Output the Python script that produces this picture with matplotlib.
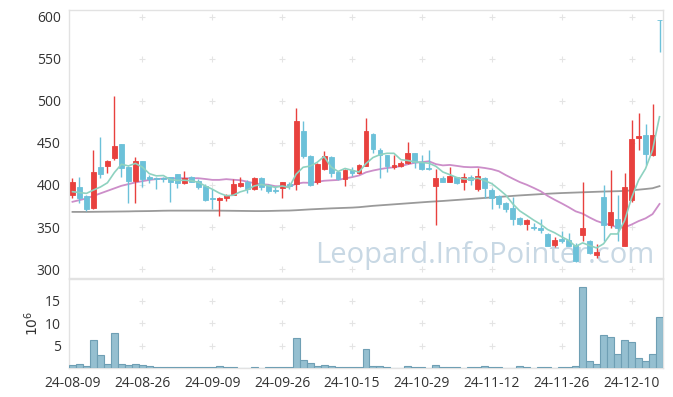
import numpy as np
import pandas as pd
import matplotlib
matplotlib.use("Agg")
import matplotlib.pyplot as plt

plt.rcParams['font.family'] = ['Open Sans', 'DejaVu Sans']

# ---- data ----
holidays = ["2024-08-15", "2024-09-16", "2024-09-17", "2024-09-18",
            "2024-10-01", "2024-10-03", "2024-10-09"]
dates = [d for d in pd.bdate_range("2024-08-09", "2024-12-16")
         if d.strftime("%Y-%m-%d") not in holidays]

opens = [388, 397, 387, 373, 421, 422, 432, 449, 421, 405,
         428, 409, 408, 408, 409, 413, 402, 409, 405, 399,
         384, 382, 384, 388, 399, 404, 395, 408, 400, 394,
         396, 401, 401, 464, 434, 403, 419, 433, 415, 407,
         418, 414, 423, 461, 441, 436, 421, 423, 426, 438,
         427, 420, 399, 408, 404, 410, 404, 409, 395, 408,
         394, 387, 379, 373, 361, 354, 350, 349, 342, 329,
         336, 335, 329, 341, 333, 317, 386, 352, 360, 328,
         382, 456, 459, 436, 596]
highs = [408, 409, 388, 441, 457, 430, 506, 449, 422, 433,
         429, 412, 410, 409, 410, 413, 417, 411, 407, 401,
         395, 386, 389, 407, 410, 406, 409, 409, 401, 397,
         404, 404, 492, 476, 435, 426, 440, 434, 417, 419,
         421, 425, 480, 462, 444, 436, 436, 428, 451, 438,
         435, 442, 419, 411, 421, 410, 414, 412, 420, 409,
         396, 388, 380, 386, 362, 360, 355, 360, 343, 338,
         345, 343, 331, 403, 335, 330, 400, 418, 388, 414,
         477, 485, 472, 496, 596]
lows = [384, 379, 369, 372, 408, 414, 430, 410, 378, 379,
        398, 402, 395, 404, 380, 396, 401, 403, 395, 381,
        372, 363, 381, 388, 398, 391, 394, 394, 391, 391,
        385, 395, 394, 432, 399, 401, 418, 410, 406, 399,
        411, 413, 422, 438, 408, 415, 419, 421, 425, 420,
        418, 418, 353, 403, 403, 401, 394, 400, 393, 384,
        372, 373, 368, 352, 352, 347, 346, 343, 327, 326,
        331, 327, 309, 333, 318, 313, 333, 349, 333, 327,
        380, 442, 424, 434, 558]
closes = [404, 385, 371, 415, 413, 429, 446, 420, 405, 428,
          407, 407, 407, 407, 404, 402, 408, 404, 398, 382,
          383, 385, 388, 401, 402, 395, 408, 397, 393, 393,
          403, 399, 476, 434, 400, 425, 434, 414, 407, 418,
          414, 424, 464, 443, 435, 422, 424, 426, 438, 427,
          419, 419, 408, 404, 411, 402, 410, 406, 411, 396,
          385, 377, 371, 359, 354, 358, 349, 346, 328, 335,
          334, 328, 310, 349, 319, 320, 353, 368, 349, 398,
          455, 458, 437, 459, 596]
volumes = [0.67, 0.9, 0.44, 6.2, 2.9, 0.9, 7.8, 0.9, 0.67, 0.9,
           0.67, 0.44, 0.2, 0.15, 0.15, 0.15, 0.15, 0.15, 0.15, 0.15,
           0.15, 0.4, 0.15, 0.15, 0.05, 0.05, 0.15, 0.05, 0.15, 0.15,
           0.15, 0.15, 6.7, 1.8, 1.1, 0.44, 0.67, 0.44, 0.2, 0.2,
           0.2, 0.2, 4.2, 0.44, 0.44, 0.2, 0.05, 0.05, 0.44, 0.2,
           0.2, 0.05, 0.67, 0.2, 0.2, 0.2, 0.05, 0.15, 0.15, 0.44,
           0.2, 0.2, 0.05, 0.05, 0.44, 0.2, 0.05, 0.15, 0.15, 0.05,
           0.2, 0.2, 0.44, 18.0, 1.6, 0.9, 7.3, 6.9, 3.1, 6.2,
           5.8, 2.2, 1.6, 3.1, 11.3]
# moving-average values before enough closes are available
ma5_head = [392, 391, 390, 394]
ma20_head = [380, 382, 384, 387, 390, 393, 396, 399, 401, 403,
             404.5, 406, 407, 407.5, 408, 408, 408, 408, 408]
ma_long = [368.0, 368.0, 368.0, 368.1, 368.2, 368.3, 368.4, 368.5, 368.6, 368.8,
           368.9, 369.0, 369.2, 369.4, 369.5, 369.5, 369.5, 369.5, 369.5, 369.5,
           369.5, 369.5, 369.4, 369.3, 369.2, 369.1, 369.0, 369.0, 369.1, 369.3,
           369.5, 369.6, 370.0, 370.5, 371.0, 371.4, 371.8, 372.2, 372.5, 372.8,
           373.1, 373.6, 374.4, 375.2, 375.8, 376.4, 377.0, 377.6, 378.2, 378.8,
           379.4, 380.0, 380.5, 381.0, 381.6, 382.2, 382.8, 383.4, 384.0, 384.6,
           385.2, 385.8, 386.4, 387.0, 387.6, 388.1, 388.6, 389.1, 389.6, 390.0,
           390.4, 390.7, 391.0, 391.3, 391.6, 391.9, 392.2, 392.4, 392.6, 392.9,
           393.6, 394.4, 395.2, 396.1, 398.6]

# ---- derived ----
n = len(closes)
x = np.arange(n)
o = np.array(opens, float)
c = np.array(closes, float)
h = np.array(highs, float)
l = np.array(lows, float)
v = np.array(volumes, float)
cs = pd.Series(c)
ma5 = cs.rolling(5).mean().to_numpy()
ma5[:4] = ma5_head
ma20 = cs.rolling(20).mean().to_numpy()
ma20[:19] = ma20_head

UP = '#e8413e'
DOWN = '#6cc1d9'
colors = [UP if cc > oo else DOWN for oo, cc in zip(o, c)]

W, H = 673, 397
fig = plt.figure(figsize=(W / 100, H / 100), dpi=100)
L, R = 69, 663
ax = fig.add_axes([L / W, 1 - 278 / H, (R - L) / W, (278 - 10) / H])
axv = fig.add_axes([L / W, 1 - 368 / H, (R - L) / W, (368 - 279) / H], sharex=ax)

spine_col = '#e2e2e2'
for a in (ax, axv):
    for s in a.spines.values():
        s.set_color(spine_col)
        s.set_linewidth(1.0)
    a.tick_params(length=0, labelsize=10, labelcolor='#333333', pad=6)

# watermark
ax.text(0.70, 0.085, 'Leopard.InfoPointer.com', transform=ax.transAxes,
        ha='center', va='center', fontsize=21, color='#c8d8e4', zorder=0)

# candles
ax.vlines(x, l, h, colors=colors, linewidth=1.0, zorder=3)
bottom = np.minimum(o, c)
height = np.abs(c - o)
ax.bar(x, height, bottom=bottom, width=0.7, color=colors, edgecolor=colors,
       linewidth=0.6, zorder=4)

# moving averages
ax.plot(x, ma_long, color='#9a9a9a', lw=1.3, zorder=2)
ax.plot(x, ma20, color='#cc8ec9', lw=1.3, zorder=2)
ax.plot(x, ma5, color='#8ed2c0', lw=1.2, zorder=5)

ax.set_xlim(-0.5, n - 0.5)
ax.set_ylim(289.5, 607.8)
yt = [300, 350, 400, 450, 500, 550, 600]
ax.set_yticks(yt)
ticks = list(range(0, n, 10))
ax.set_xticks(ticks)
plt.setp(ax.get_xticklabels(), visible=False)

# volume
axv.bar(x, v, width=1.0, color='#95bfd0', edgecolor='#6f9fb4', linewidth=0.8, zorder=3)
axv.set_ylim(0, 19.8)
vt = [5, 10, 15]
axv.set_yticks(vt)
axv.set_xticks(ticks)
axv.set_xticklabels([dates[i].strftime('%y-%m-%d') for i in ticks])
axv.set_ylabel(r'$10^6$', fontsize=10, color='#333333', labelpad=2)

# grid crosses
for a, ys in ((ax, yt), (axv, vt)):
    gx, gy = np.meshgrid(ticks[1:], ys)
    a.scatter(gx.ravel(), gy.ravel(), marker='+', s=14, color='#e4e4e4',
              linewidths=0.8, zorder=1)

fig.savefig('out.png', dpi=100)
